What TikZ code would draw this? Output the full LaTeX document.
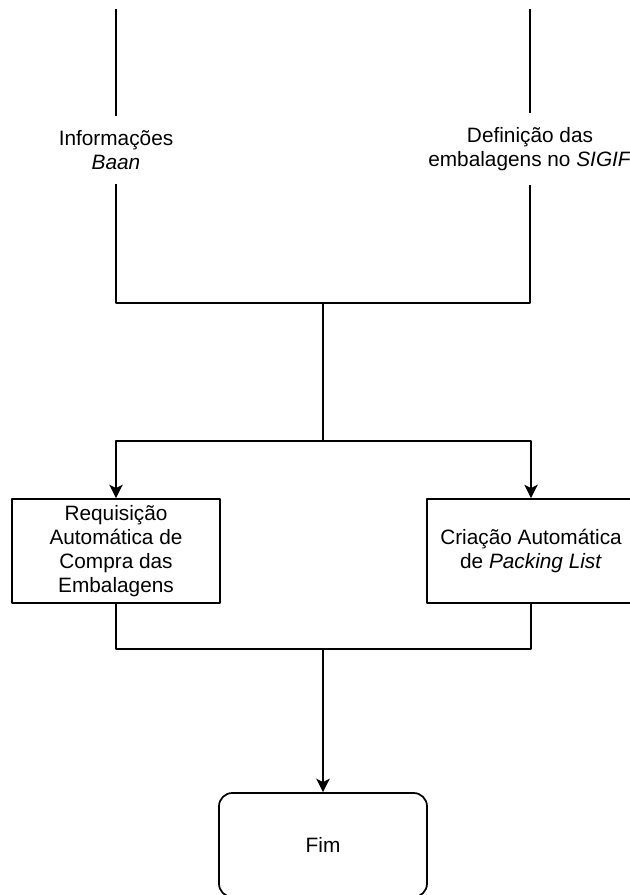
\documentclass[tikz,border=0pt]{standalone}
\usepackage{fontspec}
\setmainfont{Liberation Sans}
\usetikzlibrary{arrows.meta}
\tikzset{
  lbl/.style={align=center, inner xsep=2pt, inner ysep=10pt},
  caixa/.style={draw, align=center, minimum width=156pt, minimum height=78pt, inner sep=0pt},
  fim/.style={caixa, rounded corners=10pt}
}
\begin{document}
\begin{tikzpicture}[x=0.75pt, y=-0.75pt, font=\fontsize{15.6}{18}\selectfont, line width=1.3pt, line join=round, >={Stealth[length=10pt,width=10pt,inset=2.5pt]}]
\useasboundingbox (0,0) rectangle (630,895);
\coordinate (infotopo) at (116,9);
\coordinate (deftopo) at (530,9);
\coordinate (j1) at (323,303);
\coordinate (j2) at (323,441);
\coordinate (j3) at (323,649);
\path
(116,150) node[lbl] (info) {Informações\\\textit{Baan}}
(530,149) node[lbl] (def) {Definição das\\embalagens no \textit{SIGIF}}
(116,551) node[caixa] (req) {Requisição\\Automática de\\Compra das\\Embalagens}
(531,551) node[caixa] (pack) {Criação Automática\\de \textit{Packing List}}
(323,845) node[fim] (final) {Fim};
\draw (infotopo) -- (info);
\draw (deftopo) -- (def);
\draw (info) |- (j1) -| (def);
\draw (j1) -- (j2);
\draw[->] (j2) -| (req);
\draw[->] (j2) -| (pack);
\draw (req) |- (j3) -| (pack);
\draw[->] (j3) -- (final);
\end{tikzpicture}
\end{document}
